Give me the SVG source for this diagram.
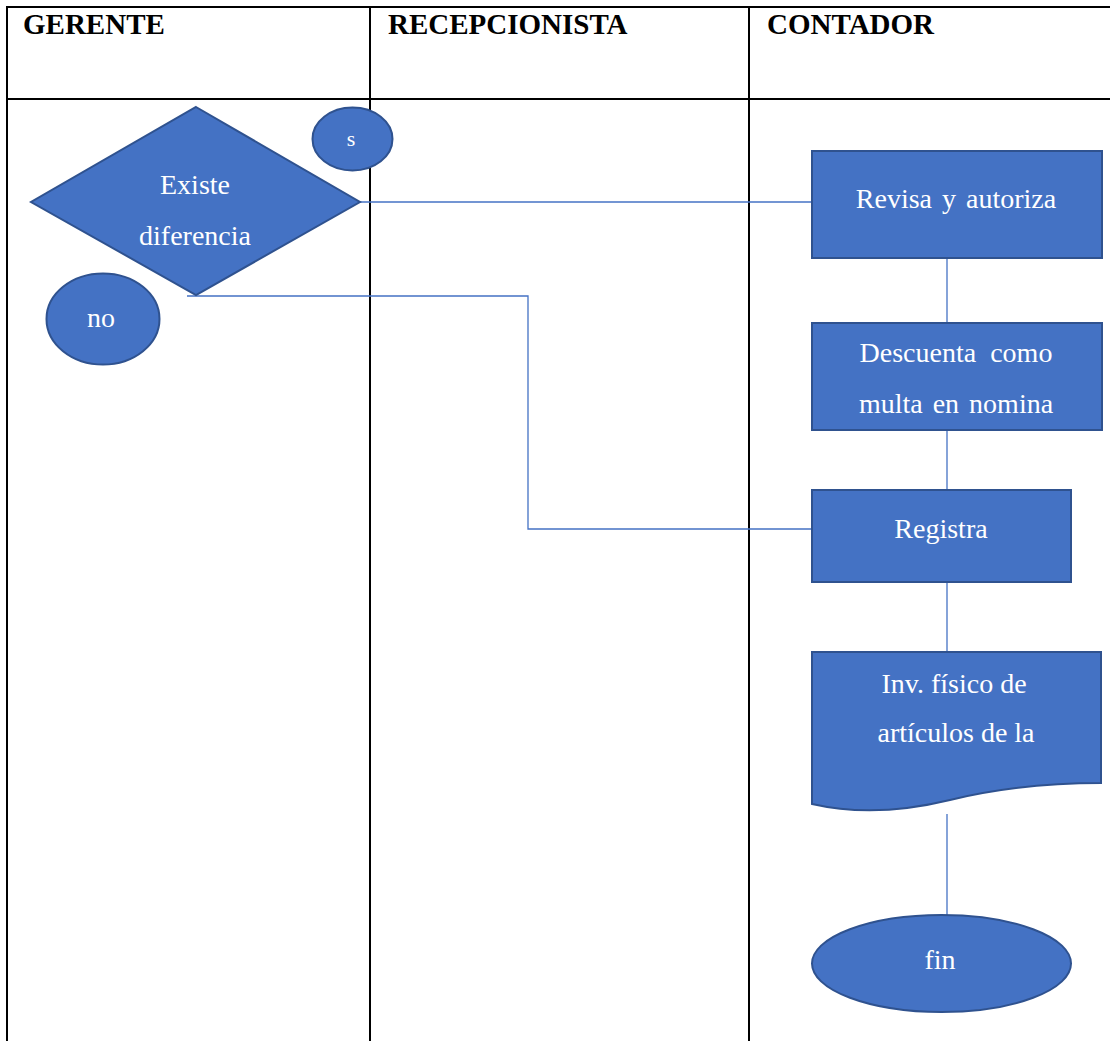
<svg xmlns="http://www.w3.org/2000/svg" width="1110" height="1041" viewBox="0 0 1110 1041">
  <style>
    .grid { stroke: #000; stroke-width: 2; fill: none; }
    .head { font-family: "Liberation Serif", "Times New Roman", serif; font-weight: bold; font-size: 29px; fill: #000; }
    .shape { fill: #4472C4; stroke: #2F528F; stroke-width: 2; }
    .label { font-family: "Liberation Serif", "Times New Roman", serif; font-size: 28px; fill: #fff; text-anchor: middle; }
    .link { stroke: #4472C4; stroke-width: 1.3; fill: none; }
  </style>
  <rect width="1110" height="1041" fill="#fff"/>

  <!-- swimlane table -->
  <g id="lanes">
    <line class="grid" x1="7" y1="7" x2="1110" y2="7"/>
    <line class="grid" x1="7" y1="99" x2="1110" y2="99"/>
    <line class="grid" x1="7" y1="6" x2="7" y2="1041"/>
    <line class="grid" x1="370" y1="6" x2="370" y2="1041"/>
    <line class="grid" x1="749" y1="6" x2="749" y2="1041"/>
    <text class="head" x="23" y="34">GERENTE</text>
    <text class="head" x="388" y="34">RECEPCIONISTA</text>
    <text class="head" x="767" y="34">CONTADOR</text>
  </g>

  <!-- connectors -->
  <g id="connectors">
    <line class="link" x1="360" y1="202" x2="812" y2="202"/>
    <polyline class="link" points="187,296 528,296 528,529 812,529"/>
    <line class="link" x1="947" y1="258" x2="947" y2="323"/>
    <line class="link" x1="947" y1="431" x2="947" y2="490"/>
    <line class="link" x1="947" y1="583" x2="947" y2="652"/>
    <line class="link" x1="947" y1="814" x2="947" y2="915"/>
  </g>

  <g id="decision">
    <polygon class="shape" points="196,107 360,202 196,295 31,202"/>
    <text class="label" x="195" y="194">Existe</text>
    <text class="label" x="195" y="245">diferencia</text>
  </g>

  <g id="yes">
    <ellipse class="shape" cx="352.5" cy="139" rx="40" ry="31.5"/>
    <text class="label" x="351" y="146" style="font-size:22px">s</text>
  </g>

  <g id="no">
    <ellipse class="shape" cx="103" cy="319" rx="56.5" ry="45.5"/>
    <text class="label" x="101" y="327">no</text>
  </g>

  <g id="revisa">
    <rect class="shape" x="812" y="151" width="290" height="107"/>
    <text class="label" x="956" y="208" word-spacing="3">Revisa y autoriza</text>
  </g>

  <g id="descuenta">
    <rect class="shape" x="812" y="323" width="290" height="107"/>
    <text class="label" x="956" y="362" word-spacing="7">Descuenta como</text>
    <text class="label" x="956" y="413" word-spacing="3">multa en nomina</text>
  </g>

  <g id="registra">
    <rect class="shape" x="812" y="490" width="259" height="92"/>
    <text class="label" x="941" y="538">Registra</text>
  </g>

  <g id="inventario">
    <path class="shape" d="M812,652 H1101 V783 C1050,783 1000,788 950,800 C905,811 860,815 812,804 Z"/>
    <text class="label" x="954" y="693">Inv. físico de</text>
    <text class="label" x="956" y="742">artículos de la</text>
  </g>

  <g id="fin">
    <ellipse class="shape" cx="941.5" cy="963.5" rx="129.5" ry="48.5"/>
    <text class="label" x="940" y="969">fin</text>
  </g>
</svg>
